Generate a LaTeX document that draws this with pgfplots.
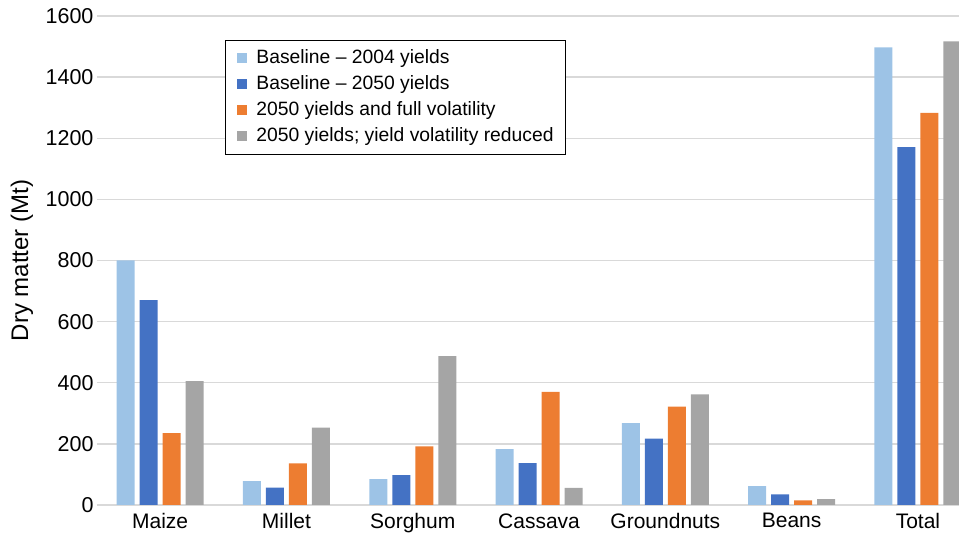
\documentclass[border=0pt]{standalone}
\usepackage{fontspec}
\setmainfont{Liberation Sans}
\usepackage{pgfplots}
\pgfplotsset{compat=1.18}
\definecolor{cA}{HTML}{9DC3E6}
\definecolor{cB}{HTML}{4472C4}
\definecolor{cC}{HTML}{ED7D31}
\definecolor{cD}{HTML}{A5A5A5}
\definecolor{gridc}{HTML}{D9D9D9}
\begin{document}
\begin{tikzpicture}
\begin{axis}[
  scale only axis, width=862pt, height=489pt,
  xmin=-0.5, xmax=6.325, ymin=0, ymax=1600,
  ybar=5pt, bar width=18pt,
  xtick={0,1,2,3,4,5,6},
  xticklabels={Maize,Millet,Sorghum,Cassava,Groundnuts,Beans,Total},
  ytick={0,200,400,600,800,1000,1200,1400,1600},
  ymajorgrids, major grid style={draw=gridc, line width=1.3pt},
  axis line style={draw=none}, major tick length=0pt,
  yticklabel style={font=\fontsize{21.5}{24}\selectfont},
  xticklabel style={font=\fontsize{21}{24}\selectfont, yshift=-5pt},
  /pgf/number format/assume math mode=true,
  /pgf/number format/1000 sep={},
  ylabel={Dry matter (Mt)},
  ylabel style={font=\fontsize{24}{28}\selectfont, at={(axis description cs:-0.087,0.5)}, anchor=center},
  legend image code/.code={\fill[#1] (0pt,-5pt) rectangle (10pt,5pt);},
  legend style={at={(axis description cs:0.1485,0.951)}, anchor=north west,
    draw=black, line width=0.8pt, fill=white,
    font=\fontsize{19.3}{22}\selectfont,
    nodes={inner sep=0pt, text height=14pt, text depth=4pt},
    row sep=8pt, column sep=9pt, inner xsep=12pt, inner ysep=9pt},
  legend cell align=left,
]
\addplot[fill=cA, draw=none] coordinates {(0,800) (1,78) (2,85) (3,183) (4,268) (5,62) (6,1497)};
\addplot[fill=cB, draw=none] coordinates {(0,670) (1,57) (2,98) (3,137) (4,217) (5,35) (6,1171)};
\addplot[fill=cC, draw=none] coordinates {(0,235) (1,136) (2,192) (3,370) (4,322) (5,15) (6,1283)};
\addplot[fill=cD, draw=none] coordinates {(0,405) (1,253) (2,487) (3,56) (4,362) (5,19) (6,1517)};
\legend{Baseline -- 2004 yields, Baseline -- 2050 yields, 2050 yields and full volatility, 2050 yields; yield volatility reduced}
\end{axis}
\pgfresetboundingbox
\path (-97pt,-33pt) rectangle (862pt,505pt);
\end{tikzpicture}
\end{document}
